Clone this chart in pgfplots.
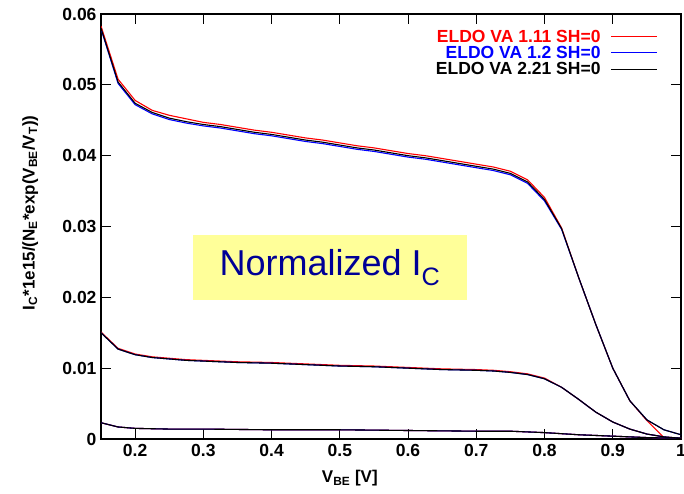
\documentclass[border=0pt]{standalone}
\usepackage{pgfplots}
\usepackage{pgfplotstable}
\pgfplotsset{compat=1.18}
\usepackage{fontspec}
\setmainfont{Liberation Sans}

\definecolor{notebg}{RGB}{255,255,153}
\definecolor{notefg}{RGB}{0,0,150}

% Normalized collector current, three bias groups, one column per model version
\pgfplotstableread{
V      red     blue    black
0.150  0.0583  0.0579  0.0580
0.175  0.0508  0.0502  0.0504
0.200  0.0478  0.0472  0.0474
0.225  0.0464  0.0459  0.0461
0.250  0.0457  0.0451  0.0453
0.275  0.0452  0.0446  0.0448
0.300  0.0447  0.0442  0.0444
0.325  0.0444  0.0439  0.0441
0.350  0.0440  0.0435  0.0437
0.375  0.0436  0.0431  0.0433
0.400  0.0433  0.0428  0.0430
0.425  0.0429  0.0424  0.0426
0.450  0.0425  0.0420  0.0422
0.475  0.0422  0.0417  0.0419
0.500  0.0418  0.0413  0.0415
0.525  0.0414  0.0409  0.0411
0.550  0.0411  0.0406  0.0408
0.575  0.0407  0.0402  0.0404
0.600  0.0403  0.0398  0.0400
0.625  0.0400  0.0395  0.0397
0.650  0.0396  0.0391  0.0393
0.675  0.0392  0.0387  0.0389
0.700  0.0388  0.0383  0.0385
0.725  0.0384  0.0379  0.0381
0.750  0.0378  0.0373  0.0375
0.775  0.0366  0.0361  0.0363
0.800  0.0341  0.0336  0.0338
0.825  0.0298  0.0296  0.0297
0.850  0.0228  0.0228  0.0228
0.875  0.0162  0.0162  0.0162
0.900  0.0100  0.0100  0.0100
0.925  0.0054  0.0054  0.0054
0.950  0.0026  0.0027  0.0027
0.975  0.0002  0.0013  0.0013
1.000  0.0000  0.0006  0.0006
}\topgroup

\pgfplotstableread{
V      red     blue    black
0.150  0.0151  0.0150  0.0150
0.175  0.0128  0.0127  0.0127
0.200  0.0120  0.0119  0.0119
0.225  0.0116  0.0115  0.0115
0.250  0.0114  0.0113  0.0113
0.275  0.0112  0.0111  0.0111
0.300  0.0111  0.0110  0.0110
0.350  0.0109  0.0108  0.0108
0.400  0.0108  0.0107  0.0107
0.450  0.0106  0.0105  0.0105
0.500  0.0104  0.0103  0.0103
0.550  0.0103  0.0102  0.0102
0.600  0.0101  0.0100  0.0100
0.650  0.0099  0.0098  0.0098
0.700  0.0098  0.0097  0.0097
0.725  0.0097  0.0096  0.0096
0.750  0.0095  0.0094  0.0094
0.775  0.0092  0.0091  0.0091
0.800  0.0086  0.0085  0.0085
0.825  0.0073  0.0073  0.0073
0.850  0.0056  0.0056  0.0056
0.875  0.0038  0.0038  0.0038
0.900  0.0024  0.0024  0.0024
0.925  0.0014  0.0014  0.0014
0.950  0.0007  0.0007  0.0007
0.975  0.0003  0.0003  0.0003
1.000  0.0001  0.0001  0.0001
}\midgroup

\pgfplotstableread{
V      red     blue    black
0.150  0.0023  0.0023  0.0023
0.175  0.0017  0.0017  0.0017
0.200  0.0015  0.0015  0.0015
0.250  0.0014  0.0014  0.0014
0.300  0.0014  0.0014  0.0014
0.400  0.0013  0.0013  0.0013
0.500  0.0013  0.0013  0.0013
0.600  0.0012  0.0012  0.0012
0.700  0.0011  0.0011  0.0011
0.750  0.0011  0.0011  0.0011
0.800  0.0009  0.0009  0.0009
0.850  0.0006  0.0006  0.0006
0.900  0.0004  0.0004  0.0004
0.950  0.0002  0.0002  0.0002
1.000  0.0001  0.0001  0.0001
}\lowgroup

\begin{document}
\begin{tikzpicture}
\path[use as bounding box] (0,0) rectangle (684pt,494pt);
\begin{axis}[
  at={(101pt,55pt)}, anchor=south west,
  scale only axis, width=580pt, height=425pt,
  xmin=0.15, xmax=1, ymin=0, ymax=0.06,
  xtick={0.2,0.3,0.4,0.5,0.6,0.7,0.8,0.9,1},
  ytick={0,0.01,0.02,0.03,0.04,0.05,0.06},
  scaled y ticks=false,
  /pgf/number format/fixed,
  /pgf/number format/precision=2,
  /pgf/number format/assume math mode=true,
  tick align=inside,
  major tick length=10pt,
  major tick style={line width=1pt, black},
  axis line style={line width=1.4pt},
  tick label style={font=\fontsize{17.5}{17.5}\selectfont\bfseries},
  xticklabel style={yshift=-2pt},
  yticklabel style={xshift=-1pt},
  xlabel={V\textsubscript{BE} [V]},
  ylabel={I\textsubscript{C}*1e15/(N\textsubscript{E}*exp(V\textsubscript{BE}/V\textsubscript{T}))},
  label style={font=\fontsize{17}{17}\selectfont\bfseries},
  xlabel style={at={(axis description cs:0.429,-0.092)}, anchor=center},
  ylabel style={at={(axis description cs:-0.122,0.532)}, anchor=center},
  legend style={at={(rel axis cs:0.960,0.968)}, anchor=north east,
    draw=none, fill=none, inner sep=0pt, row sep=-1.5pt, column sep=8pt,
    font=\fontsize{17.5}{17.5}\selectfont\bfseries},
  legend cell align=right,
  legend plot pos=right,
  legend image code/.code={\draw[#1] (0pt,0pt) -- (46pt,0pt);},
  every axis plot/.append style={line width=1.1pt},
]
\addplot[red] table[x=V, y=red] {\topgroup};
\addlegendentry{\textcolor{red}{ELDO VA 1.11 SH=0}}
\addplot[red, forget plot] table[x=V, y=red] {\midgroup};
\addplot[red, forget plot] table[x=V, y=red] {\lowgroup};

\addplot[blue] table[x=V, y=blue] {\topgroup};
\addlegendentry{\textcolor{blue}{ELDO VA 1.2 SH=0}}
\addplot[blue, forget plot] table[x=V, y=blue] {\midgroup};
\addplot[blue, forget plot] table[x=V, y=blue] {\lowgroup};

\addplot[black] table[x=V, y=black] {\topgroup};
\addlegendentry{\textcolor{black}{ELDO VA 2.21 SH=0}}
\addplot[black, forget plot] table[x=V, y=black] {\midgroup};
\addplot[black, forget plot] table[x=V, y=black] {\lowgroup};

\node[fill=notebg, text=notefg, minimum width=274pt, minimum height=65pt,
      inner sep=0pt, font=\fontsize{36}{40}\selectfont]
  at (axis cs:0.4856,0.0242) {Normalized I\textsubscript{C}};
\end{axis}
\end{tikzpicture}
\end{document}
